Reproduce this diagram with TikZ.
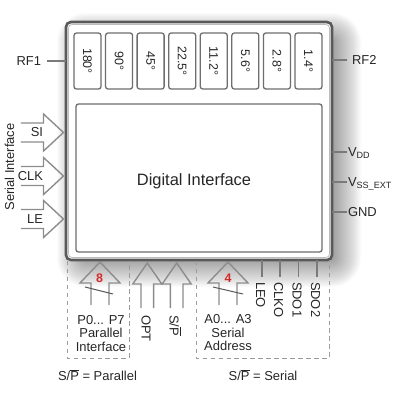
\documentclass[tikz,border=0pt]{standalone}
\usepackage{fontspec}
\setmainfont{Liberation Sans}
\definecolor{boxc}{HTML}{595959}
\definecolor{bevel}{HTML}{BDBDBD}
\definecolor{innerc}{HTML}{6E6E6E}
\definecolor{arrc}{HTML}{8C8C8C}
\definecolor{dashc}{HTML}{9C9C9C}
\definecolor{pinc}{HTML}{7A7A7A}
\definecolor{txt}{HTML}{262626}
\definecolor{redn}{HTML}{D22A2A}
\begin{document}
\begin{tikzpicture}[x=1bp,y=-1bp,
  lbl/.style={inner sep=0pt, outer sep=0pt, text=txt, font=\fontsize{13}{13.5}\selectfont},
  phasebox/.style={draw=innerc, line width=1.3pt, rounded corners=2.5pt, fill=white,
    rotate=-90, minimum width=56bp, minimum height=27bp, inner sep=0pt, outer sep=0pt,
    text=txt, font=\fontsize{12.5}{13}\selectfont},
  arrowline/.style={draw=arrc, line width=1.4pt, line join=miter},
  pinline/.style={draw=pinc, line width=1.2pt},
  dashline/.style={draw=dashc, line width=1pt, dash pattern=on 4.5pt off 3.5pt},
  slashline/.style={draw=boxc, line width=1pt},
  num/.style={inner sep=0pt, text=redn, font=\fontsize{12.5}{13}\selectfont\bfseries},
  pics/rblock/.style={code={\draw[arrowline] (-42.6,-9.5) -- (-20,-9.5) -- (-20,-18.5) -- (0,0) -- (-20,18.5) -- (-20,9.5) -- (-42.6,9.5);}},
  pics/ublock/.style n args={3}{code={\draw[arrowline] (-#2,#3) -- (-#2,21) -- (-#1,21) -- (0,0) -- (#1,21) -- (#2,21) -- (#2,#3);}}
]
\useasboundingbox (0,0) rectangle (400,400);

% shadow
\foreach \e in {-14,...,15}{
  \pgfmathsetmacro\rr{max(1,\e+14)}
  \fill[black, opacity=0.016, rounded corners=\rr pt] (72-\e,28-\e) rectangle (346+\e,272+\e);
}

% chip body
\node[draw=boxc, line width=2.6pt, fill=white, rounded corners=5pt,
  minimum width=266bp, minimum height=238bp, inner sep=0pt, outer sep=0pt] (chip) at (199,141) {};
\draw[bevel, line width=0.8pt, rounded corners=3.5pt] (68.5,24.5) rectangle (329.5,257.5);

% phase shifter boxes
\foreach \t [count=\i from 0] in {180°,90°,45°,22.5°,11.2°,5.6°,2.8°,1.4°}{
  \node[phasebox] (ph\i) at (87.5+\i*31.57,61) {\t};
}

% digital interface
\node[draw=innerc, line width=1.3pt, rounded corners=2.5pt, fill=white,
  minimum width=246bp, minimum height=148bp, inner sep=0pt, outer sep=0pt] (dig) at (199,178) {};
\node[inner sep=0pt, text=txt, font=\fontsize{16.5}{17}\selectfont] (diglabel) at (194,181) {Digital Interface};

% RF pins
\coordinate (rf1end) at (47,61);
\coordinate (rf2end) at (347,60);
\draw[pinline] (rf1end) -- (chip.west |- rf1end);
\draw[pinline] (chip.east |- rf2end) -- (rf2end);
\node[lbl, anchor=east] (rf1) at (41,61) {RF1};
\node[lbl, anchor=west] (rf2) at (352,60) {RF2};

% right pins
\foreach \n/\y/\t in {vdd/152/V\textsubscript{DD}, vss/182/V\textsubscript{SS\_EXT}, gnd/212/GND}{
  \coordinate (\n end) at (347,\y);
  \draw[pinline] (chip.east |- \n end) -- (\n end);
  \node[lbl, anchor=base west] (\n) at (348,\y+4.6) {\t};
}

% serial interface arrows
\foreach \n/\y/\t in {si/132.5/SI, clk/176/CLK, le/219/LE}{
  \coordinate (\n tip) at (63.5,\y);
  \pic at (\n tip) {rblock};
  \node[lbl, anchor=east] (\n) at (43,\y) {\t};
}
\node[lbl, rotate=90] (serif) at (9.5,167) {Serial Interface};

% bottom dashed groups
\draw[dashline] (67,261) -- (67,358) -- (129,358) -- (129,261);
\draw[dashline] (196,261) -- (196,358) -- (329,358) -- (329,261);

% parallel bus arrow
\coordinate (ptip) at (100,262);
\pic at (ptip) {ublock={20}{9}{43}};
\draw[slashline] (85,287) -- (113,294);
\node[num] (n8) at (99.5,278) {8};
\node[lbl, anchor=north, align=center] (plabel) at (101,315.4) {P0... P7\\Parallel\\Interface};

% OPT and S/P arrows
\coordinate (opttip) at (147.3,263);
\coordinate (sptip) at (176.7,263);
\pic at (opttip) {ublock={14.5}{6.3}{45}};
\pic at (sptip) {ublock={14.5}{6.3}{45}};
\node[lbl, rotate=-90, anchor=west] (opt) at (146,315) {OPT};
\node[lbl, rotate=-90, anchor=west] (sp) at (175,315) {S/$\overline{\mbox{P}}$};

% serial address arrow
\coordinate (atip) at (228,262);
\pic at (atip) {ublock={20}{9}{43}};
\draw[slashline] (213,287) -- (243,294);
\node[num] (n4) at (228,278) {4};
\node[lbl, anchor=north, align=center] (alabel) at (228,314.8) {A0... A3\\Serial\\Address};

% serial outputs
\foreach \n/\x/\t in {leo/262/LEO, clko/280/CLKO, sdoa/298.5/SDO1, sdob/317/SDO2}{
  \coordinate (\n end) at (\x,277);
  \draw[pinline] (chip.south -| \n end) -- (\n end);
  \node[lbl, rotate=-90, anchor=west] (\n) at (\x-1.5,282) {\t};
}

% mode captions
\node[lbl] (cappar) at (97.5,375) {S/$\overline{\mbox{P}}$ = Parallel};
\node[lbl] (capser) at (263,375) {S/$\overline{\mbox{P}}$ = Serial};
\end{tikzpicture}
\end{document}
